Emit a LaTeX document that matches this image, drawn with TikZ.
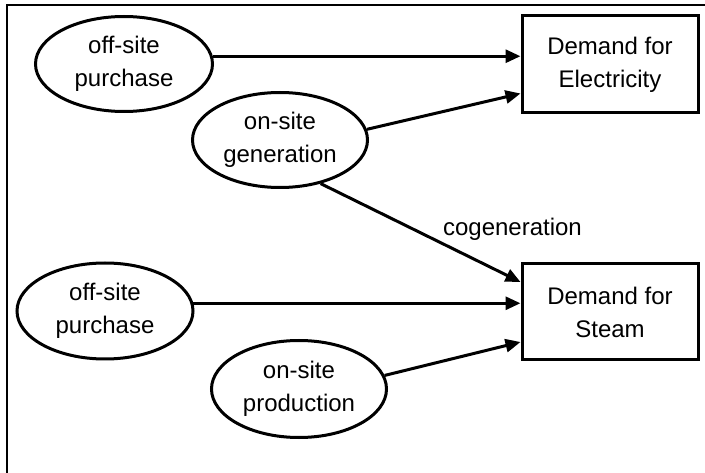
\documentclass[tikz,border=0pt]{standalone}
\usepackage{fontspec}
\setmainfont{Liberation Sans}
\usepackage{tikz}
\usetikzlibrary{arrows.meta, shapes.geometric, calc}
\newcommand{\diagfont}{\fontsize{24}{33}\selectfont}
\tikzset{
	oval/.style={draw, ellipse, line width=3pt, inner sep=0pt, align=center, font=\diagfont}
}
\tikzset{
	demand/.style={draw, rectangle, line width=3pt, minimum width=176pt, minimum height=97pt, align=center, font=\diagfont}
}
\tikzset{
	flow/.style={line width=3pt, -{Triangle[length=15pt,width=13pt]}}
}

\begin{document}
\begin{tikzpicture}[x=1pt, y=-1pt]
      \useasboundingbox (0,0) rectangle (705,473);
      % frame
      \draw[line width=2.2pt] (7,473) -- (7,5) -- (705,5);
      % sources
      \node[oval, minimum width=177pt, minimum height=95pt] (pur1) at (124,64) {off-site\\purchase};
      \node[oval, minimum width=175pt, minimum height=95pt] (gen) at (280,140) {on-site\\generation};
      \node[oval, minimum width=176pt, minimum height=96pt] (pur2) at (105,311) {off-site\\purchase};
      \node[oval, minimum width=175pt, minimum height=97pt] (prod) at (299,389) {on-site\\production};
      % demands
      \node[demand] (elec) at (610,64.5) {Demand for\\Electricity};
      \node[demand, minimum height=96pt] (steam) at (610,312) {Demand for\\Steam};
      % electricity side
      \draw[flow] (pur1.5) -- (pur1.5 -| elec.west);
      \draw[flow] (gen.7) -- ([yshift=-29pt]elec.west);
      % steam side
      \draw[flow] (gen.-47) -- ([yshift=30pt]steam.west)
        node[pos=0.6, above right, inner sep=1pt, font=\diagfont] (cogen) {cogeneration};
      \draw[flow] (pur2.5) -- (pur2.5 -| steam.west);
      \draw[flow] (prod.9) -- ([yshift=-30pt]steam.west);
    \end{tikzpicture}
\end{document}
